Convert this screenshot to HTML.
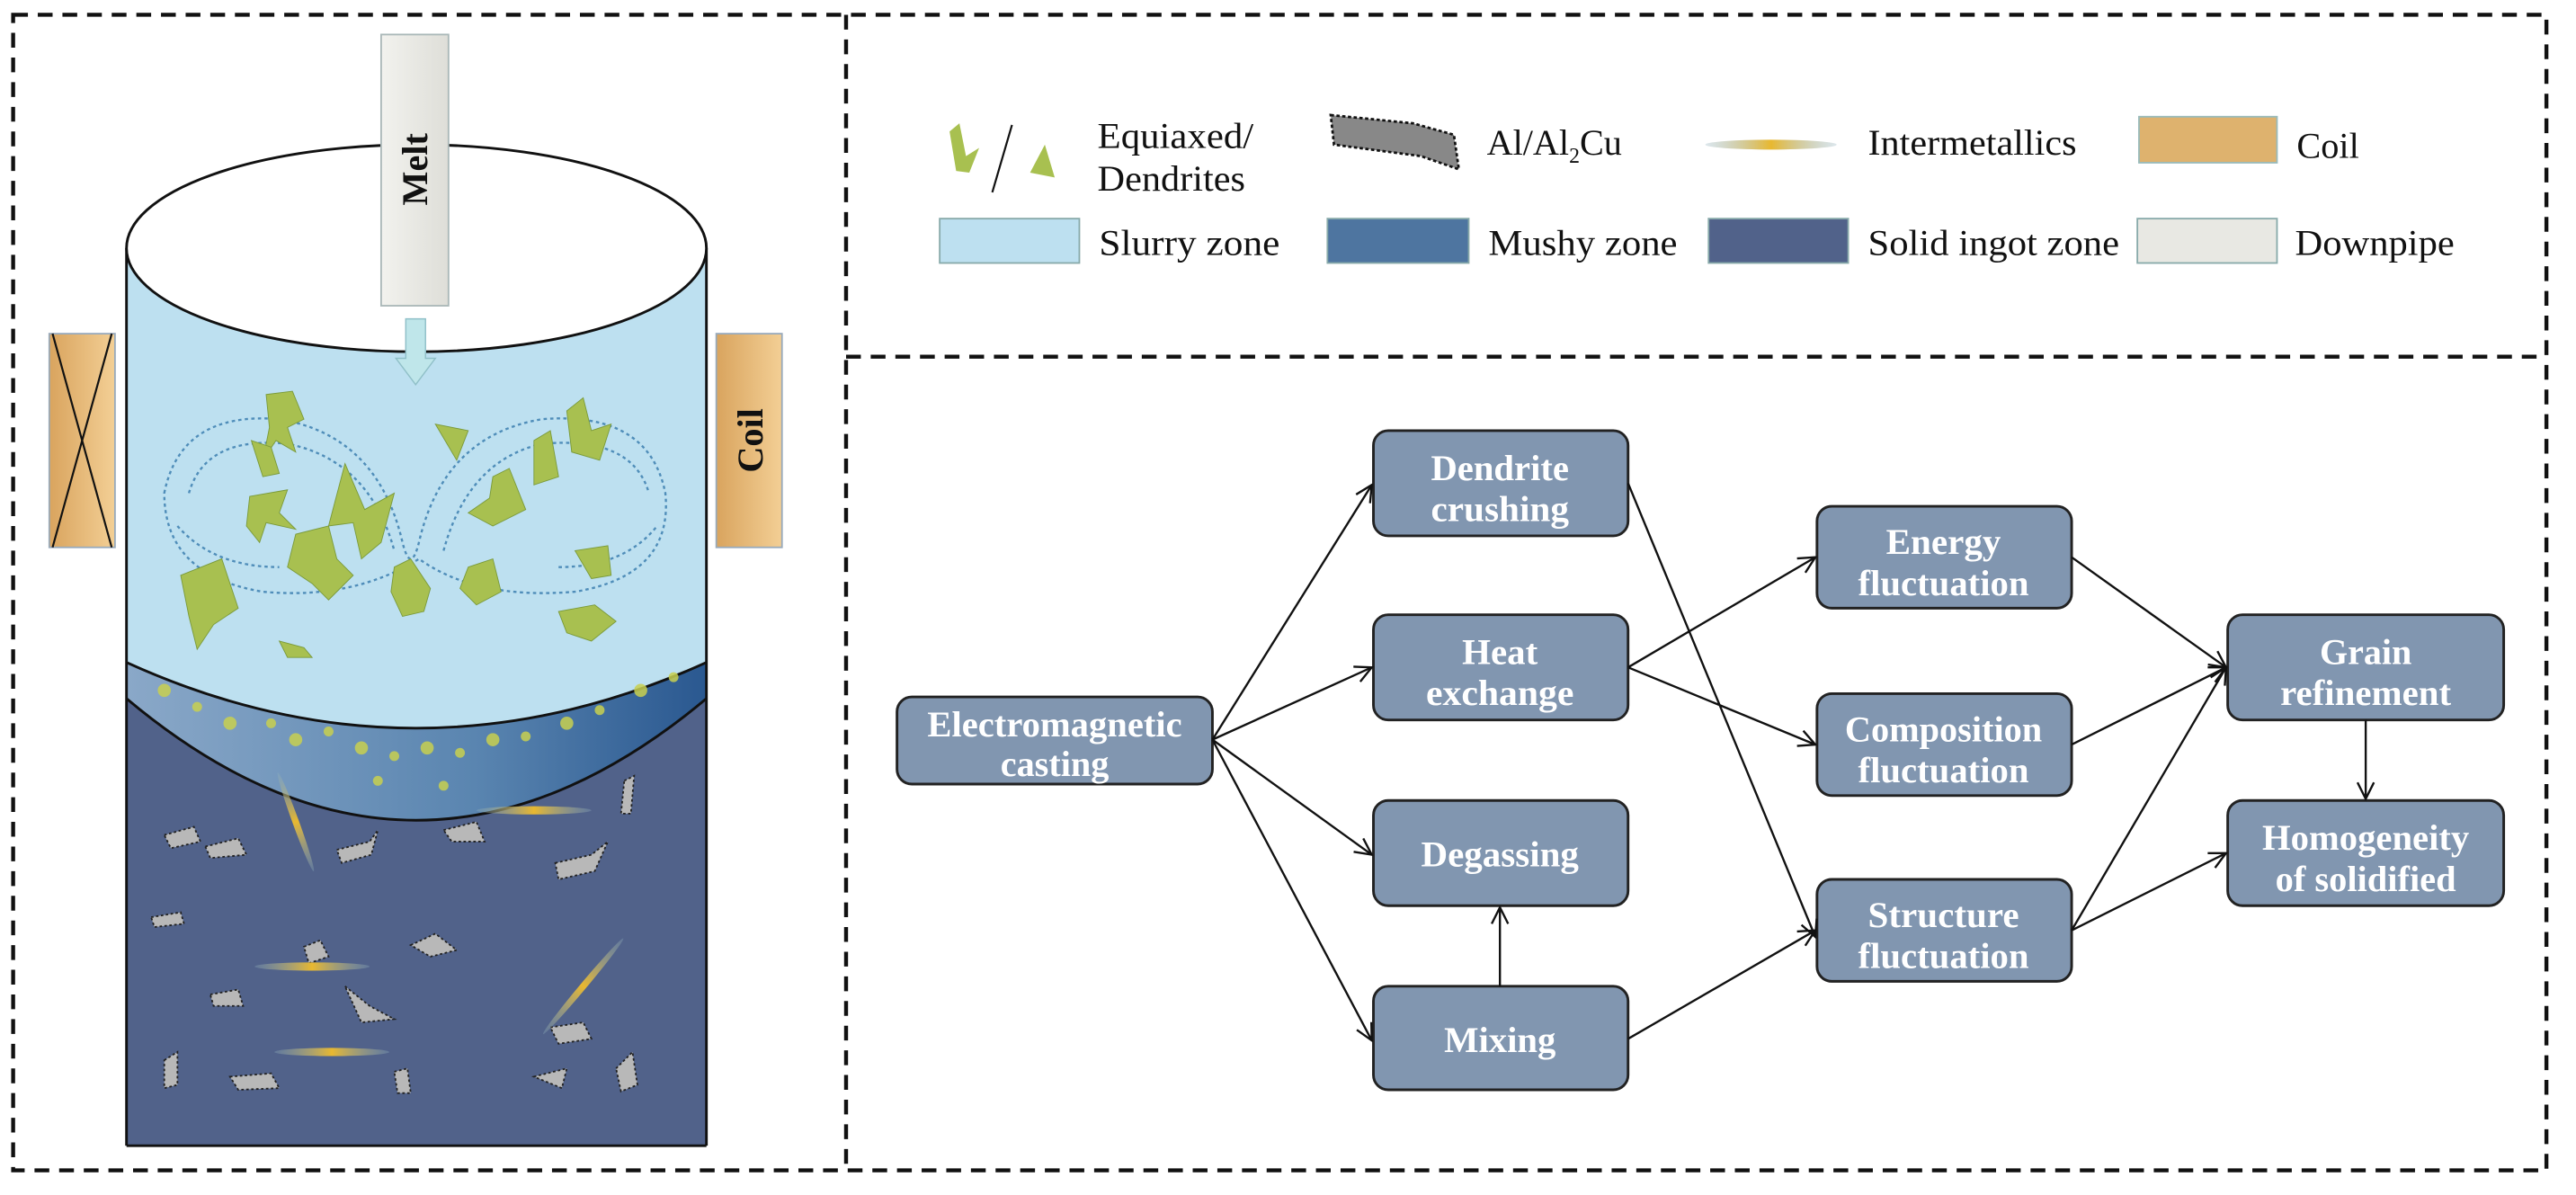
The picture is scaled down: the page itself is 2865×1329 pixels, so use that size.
<!DOCTYPE html>
<html><head><meta charset="utf-8"><style>
html,body{margin:0;padding:0;background:#fff;}
svg{display:block;}
.lg{font-family:"Liberation Serif",serif;font-size:22px;fill:#111;}
.bx{fill:#8196b0;stroke:#222;stroke-width:1.6;}
.bt{font-family:"Liberation Serif",serif;font-weight:bold;font-size:22px;fill:#fff;text-anchor:middle;}
.ar{stroke:#111;stroke-width:1.3;fill:none;marker-end:url(#a);}
</style></head><body>
<svg width="2865" height="1329" viewBox="0 0 1568 727" preserveAspectRatio="none" xmlns="http://www.w3.org/2000/svg">
<defs>
<marker id="a" viewBox="0 0 12 12" refX="11" refY="6" markerWidth="12" markerHeight="12" markerUnits="userSpaceOnUse" orient="auto"><path d="M1,1 L11,6 L1,11" fill="none" stroke="#111" stroke-width="1.3"/></marker>
<linearGradient id="coil" x1="0" x2="1"><stop offset="0" stop-color="#d9a45e"/><stop offset="1" stop-color="#f3cf95"/></linearGradient>
<linearGradient id="mushy" x1="0" x2="1"><stop offset="0" stop-color="#8aa8c8"/><stop offset="0.6" stop-color="#5a85b0"/><stop offset="1" stop-color="#2a5890"/></linearGradient>
<linearGradient id="pipe" x1="0" x2="1"><stop offset="0" stop-color="#f2f2ee"/><stop offset="1" stop-color="#deded8"/></linearGradient>
<linearGradient id="im" x1="0" x2="1"><stop offset="0" stop-color="#8fb0c0" stop-opacity="0.3"/><stop offset="0.5" stop-color="#e8b830"/><stop offset="1" stop-color="#8fb0c0" stop-opacity="0.3"/></linearGradient>
</defs>
<g fill="none" stroke="#111" stroke-width="2.4" stroke-dasharray="9,6">
<rect x="8" y="9" width="1542" height="703"/>
<line x1="515" y1="9" x2="515" y2="712"/>
<line x1="515" y1="217" x2="1550" y2="217"/>
</g>
<!-- cylinder -->
<rect x="77" y="151" width="353" height="546" fill="#51628a"/>
<path d="M77,151 L430,151 L430,403 Q253,483 77,403 Z" fill="#bde0f0"/>
<path d="M77,403 Q253,483 430,403 L430,425 Q253,573 77,425 Z" fill="url(#mushy)"/>
<path d="M77,403 Q253,483 430,403 M77,425 Q253,573 430,425" fill="none" stroke="#111" stroke-width="1.6"/>
<line x1="77" y1="151" x2="77" y2="697" stroke="#111" stroke-width="1.6"/>
<line x1="430" y1="151" x2="430" y2="697" stroke="#111" stroke-width="1.6"/>
<line x1="77" y1="697" x2="430" y2="697" stroke="#111" stroke-width="1.6"/>
<ellipse cx="253.5" cy="151" rx="176.5" ry="63" fill="#fff" stroke="#111" stroke-width="1.6"/>
<!-- splash -->
<g fill="none" stroke="#3c7fb0" stroke-width="1.3" stroke-dasharray="2,2" opacity="0.85">
<path d="M100,300 Q110,250 170,255 Q230,265 245,330 Q250,350 255,330 Q270,265 330,255 Q395,250 405,300 Q410,350 350,360 Q290,365 255,340 Q215,365 160,360 Q100,350 100,300Z"/>
<path d="M115,300 Q125,265 175,270 Q225,280 240,335 M270,335 Q285,280 330,270 Q385,265 395,300"/>
<path d="M108,320 Q130,345 170,345 M340,345 Q380,345 400,320"/>
</g>
<!-- dendrites -->
<g fill="#a8c050" stroke="#7a9a3a" stroke-width="0.5">
<path d="M162,240 L178,238 L185,255 L175,260 L180,275 L168,268 L160,280 L164,260Z"/>
<path d="M153,268 L165,272 L170,288 L160,290Z"/>
<path d="M152,302 L175,298 L170,312 L180,322 L162,318 L158,330 L150,320Z"/>
<path d="M210,282 L222,310 L240,300 L232,330 L220,340 L215,318 L200,320Z"/>
<path d="M265,258 L285,262 L278,280 Z"/>
<path d="M300,290 L310,285 L320,310 L300,320 L285,312 L298,303Z"/>
<path d="M325,268 L335,262 L340,290 L325,295Z"/>
<path d="M345,250 L355,242 L360,262 L372,258 L365,280 L348,275Z"/>
<path d="M110,350 L135,340 L145,370 L130,380 L120,395 L115,375Z"/>
<path d="M180,325 L200,320 L205,340 L215,350 L200,365 L190,355 L175,345Z"/>
<path d="M240,345 L250,340 L262,358 L258,372 L245,375 L238,360Z"/>
<path d="M285,345 L300,340 L305,360 L290,368 L280,358Z"/>
<path d="M350,335 L370,332 L372,350 L360,352Z"/>
<path d="M340,372 L362,368 L375,378 L360,390 L345,385Z"/>
<path d="M170,390 L185,394 L190,400 L175,400Z"/>
</g>
<g fill="#c8d050" opacity="0.85">
<circle cx="100" cy="420" r="4"/><circle cx="120" cy="430" r="3"/><circle cx="140" cy="440" r="4"/><circle cx="165" cy="440" r="3"/><circle cx="180" cy="450" r="4"/><circle cx="200" cy="445" r="3"/><circle cx="220" cy="455" r="4"/><circle cx="240" cy="460" r="3"/><circle cx="260" cy="455" r="4"/><circle cx="280" cy="458" r="3"/><circle cx="300" cy="450" r="4"/><circle cx="320" cy="448" r="3"/><circle cx="345" cy="440" r="4"/><circle cx="365" cy="432" r="3"/><circle cx="390" cy="420" r="4"/><circle cx="410" cy="412" r="3"/><circle cx="230" cy="475" r="3"/><circle cx="270" cy="478" r="3"/>
</g>
<!-- Al/Al2Cu particles -->
<g fill="#b8b8b8" stroke="#222" stroke-width="1" stroke-dasharray="1.5,1.5">
<path d="M100,508 L118,503 L122,512 L104,516Z"/>
<path d="M125,515 L145,510 L150,520 L128,522Z"/>
<path d="M205,517 L225,512 L230,505 L226,520 L208,525Z"/>
<path d="M270,505 L290,500 L295,512 L275,512Z"/>
<path d="M380,475 L386,472 L384,495 L378,495Z"/>
<path d="M338,525 L360,520 L370,512 L362,530 L340,535Z"/>
<path d="M92,558 L110,555 L112,562 L94,564Z"/>
<path d="M250,575 L265,568 L278,578 L262,582Z"/>
<path d="M128,605 L145,602 L148,612 L130,612Z"/>
<path d="M210,600 L225,612 L240,620 L220,622Z"/>
<path d="M335,625 L355,622 L360,632 L340,635Z"/>
<path d="M100,645 L108,640 L108,660 L100,662Z"/>
<path d="M140,655 L165,653 L170,662 L145,663Z"/>
<path d="M240,652 L248,650 L250,665 L242,665Z"/>
<path d="M325,655 L345,650 L342,662Z"/>
<path d="M375,650 L385,640 L388,660 L378,664Z"/>
<path d="M185,576 L195,572 L200,582 L188,586Z"/>
</g>
<g fill="url(#im)">
<ellipse cx="325" cy="493" rx="35" ry="2.5"/>
<ellipse cx="190" cy="588" rx="35" ry="2.5"/>
<ellipse cx="202" cy="640" rx="35" ry="2.5"/>
<ellipse cx="180" cy="500" rx="32" ry="2" transform="rotate(70 180 500)"/>
<ellipse cx="355" cy="600" rx="38" ry="2" transform="rotate(-50 355 600)"/>
</g>
<!-- downpipe -->
<rect x="232" y="21" width="41" height="165" fill="url(#pipe)" stroke="#aab8b8" stroke-width="1"/>
<text transform="translate(260,103) rotate(-90)" text-anchor="middle" font-family="Liberation Serif,serif" font-weight="bold" font-size="22" fill="#111">Melt</text>
<path d="M247,194 L259,194 L259,218 L265,218 L253,234 L241,218 L247,218Z" fill="#bfe6ea" stroke="#90c0c8" stroke-width="0.8"/>
<!-- coils -->
<rect x="30" y="203" width="40" height="130" fill="url(#coil)" stroke="#9ab" stroke-width="1"/>
<path d="M32,203 L68,333 M68,203 L32,333" stroke="#111" stroke-width="1.2"/>
<rect x="436" y="203" width="40" height="130" fill="url(#coil)" stroke="#9ab" stroke-width="1"/>
<text transform="translate(464,268) rotate(-90)" text-anchor="middle" font-family="Liberation Serif,serif" font-weight="bold" font-size="22" fill="#111">Coil</text>
<!-- legend -->
<path d="M578,80 L584,75 L588,95 L596,90 L590,105 L582,104Z" fill="#a8c050"/>
<line x1="616" y1="76" x2="604" y2="117" stroke="#111" stroke-width="1.2"/>
<path d="M627,105 L636,88 L642,108 Z" fill="#a8c050"/>
<text class="lg" x="668" y="90" textLength="95" lengthAdjust="spacingAndGlyphs">Equiaxed/</text>
<text class="lg" x="668" y="116" textLength="90" lengthAdjust="spacingAndGlyphs">Dendrites</text>
<path d="M810,70 L860,75 L885,82 L888,103 L865,95 L812,88Z" fill="#888" stroke="#111" stroke-width="1.5" stroke-dasharray="2,1.5"/>
<text class="lg" x="905" y="94" font-size="22">Al/Al<tspan font-size="13" dy="5">2</tspan><tspan dy="-5">Cu</tspan></text>
<ellipse cx="1078" cy="88" rx="40" ry="3" fill="url(#im)"/>
<text class="lg" x="1137" y="94" textLength="127" lengthAdjust="spacingAndGlyphs">Intermetallics</text>
<rect x="1302" y="71" width="84" height="28" fill="#deb26e" stroke="#9bb" stroke-width="1"/>
<text class="lg" x="1398" y="96" textLength="38" lengthAdjust="spacingAndGlyphs">Coil</text>
<rect x="572" y="133" width="85" height="27" fill="#bde0f0" stroke="#8aa" stroke-width="1"/>
<text class="lg" x="669" y="155" textLength="110" lengthAdjust="spacingAndGlyphs">Slurry zone</text>
<rect x="808" y="133" width="86" height="27" fill="#4e75a0" stroke="#8aa" stroke-width="1"/>
<text class="lg" x="906" y="155" textLength="115" lengthAdjust="spacingAndGlyphs">Mushy zone</text>
<rect x="1040" y="133" width="85" height="27" fill="#51628a" stroke="#8aa" stroke-width="1"/>
<text class="lg" x="1137" y="155" textLength="153" lengthAdjust="spacingAndGlyphs">Solid ingot zone</text>
<rect x="1301" y="133" width="85" height="27" fill="#e8e8e3" stroke="#8aa" stroke-width="1"/>
<text class="lg" x="1397" y="155" textLength="97" lengthAdjust="spacingAndGlyphs">Downpipe</text>
<!-- flowchart boxes -->
<rect class="bx" x="546" y="424" width="192" height="53" rx="9"/>
<text class="bt" x="642" y="448" textLength="155" lengthAdjust="spacingAndGlyphs">Electromagnetic</text><text class="bt" x="642" y="472" textLength="66" lengthAdjust="spacingAndGlyphs">casting</text>
<rect class="bx" x="836" y="262" width="155" height="64" rx="9"/>
<text class="bt" x="913" y="292" textLength="84" lengthAdjust="spacingAndGlyphs">Dendrite</text><text class="bt" x="913" y="317" textLength="84" lengthAdjust="spacingAndGlyphs">crushing</text>
<rect class="bx" x="836" y="374" width="155" height="64" rx="9"/>
<text class="bt" x="913" y="404" textLength="46" lengthAdjust="spacingAndGlyphs">Heat</text><text class="bt" x="913" y="429" textLength="90" lengthAdjust="spacingAndGlyphs">exchange</text>
<rect class="bx" x="836" y="487" width="155" height="64" rx="9"/>
<text class="bt" x="913" y="527" textLength="96" lengthAdjust="spacingAndGlyphs">Degassing</text>
<rect class="bx" x="836" y="600" width="155" height="63" rx="9"/>
<text class="bt" x="913" y="640" textLength="68" lengthAdjust="spacingAndGlyphs">Mixing</text>
<rect class="bx" x="1106" y="308" width="155" height="62" rx="9"/>
<text class="bt" x="1183" y="337" textLength="70" lengthAdjust="spacingAndGlyphs">Energy</text><text class="bt" x="1183" y="362" textLength="104" lengthAdjust="spacingAndGlyphs">fluctuation</text>
<rect class="bx" x="1106" y="422" width="155" height="62" rx="9"/>
<text class="bt" x="1183" y="451" textLength="120" lengthAdjust="spacingAndGlyphs">Composition</text><text class="bt" x="1183" y="476" textLength="104" lengthAdjust="spacingAndGlyphs">fluctuation</text>
<rect class="bx" x="1106" y="535" width="155" height="62" rx="9"/>
<text class="bt" x="1183" y="564" textLength="92" lengthAdjust="spacingAndGlyphs">Structure</text><text class="bt" x="1183" y="589" textLength="104" lengthAdjust="spacingAndGlyphs">fluctuation</text>
<rect class="bx" x="1356" y="374" width="168" height="64" rx="9"/>
<text class="bt" x="1440" y="404" textLength="56" lengthAdjust="spacingAndGlyphs">Grain</text><text class="bt" x="1440" y="429" textLength="104" lengthAdjust="spacingAndGlyphs">refinement</text>
<rect class="bx" x="1356" y="487" width="168" height="64" rx="9"/>
<text class="bt" x="1440" y="517" textLength="126" lengthAdjust="spacingAndGlyphs">Homogeneity</text><text class="bt" x="1440" y="542" textLength="110" lengthAdjust="spacingAndGlyphs">of solidified</text>
<!-- arrows -->
<line class="ar" x1="738" y1="450" x2="835" y2="295"/>
<line class="ar" x1="738" y1="450" x2="835" y2="406"/>
<line class="ar" x1="738" y1="450" x2="835" y2="520"/>
<line class="ar" x1="738" y1="450" x2="835" y2="633"/>
<line class="ar" x1="991" y1="294" x2="1105" y2="570"/>
<line class="ar" x1="991" y1="406" x2="1105" y2="339"/>
<line class="ar" x1="991" y1="406" x2="1105" y2="453"/>
<line class="ar" x1="913" y1="600" x2="913" y2="552"/>
<line class="ar" x1="991" y1="632" x2="1105" y2="566"/>
<line class="ar" x1="1261" y1="339" x2="1355" y2="406"/>
<line class="ar" x1="1261" y1="453" x2="1355" y2="406"/>
<line class="ar" x1="1261" y1="566" x2="1355" y2="406"/>
<line class="ar" x1="1261" y1="566" x2="1355" y2="519"/>
<line class="ar" x1="1440" y1="438" x2="1440" y2="486"/>
</svg>
</body></html>
